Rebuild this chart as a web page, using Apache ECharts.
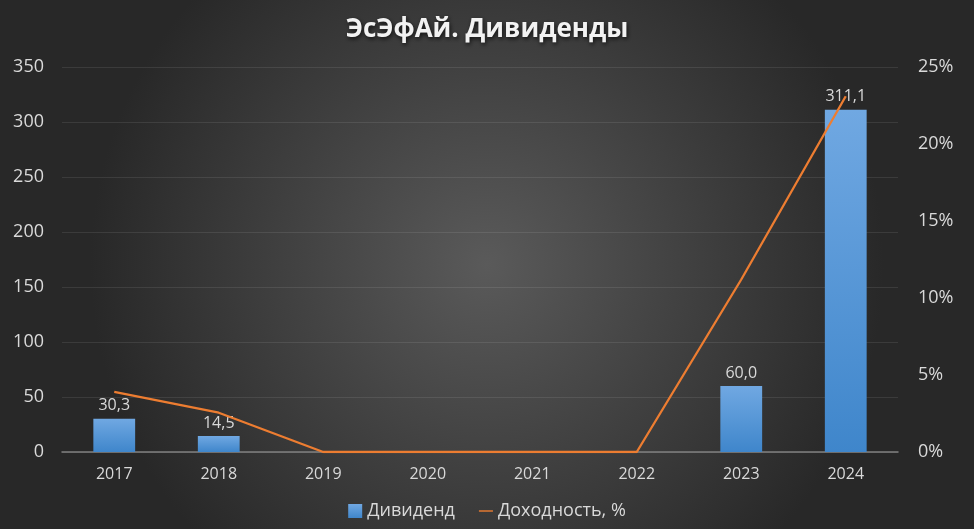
<!DOCTYPE html>
<html>
<head>
<meta charset="utf-8">
<script src="https://cdn.jsdelivr.net/npm/echarts@6/dist/echarts.min.js"></script>
<style>html,body{margin:0;padding:0;background:#333;}#c{width:974px;height:529px;}</style>
</head>
<body>
<div id="c"></div>
<script>
const categories = ['2017','2018','2019','2020','2021','2022','2023','2024'];
const dividends = [30.3, 14.5, 0, 0, 0, 0, 60.0, 311.1];
const yieldPct = [0.039, 0.0255, 0, 0, 0, 0, 0.112, 0.231];
const leftTicks = {min: 0, max: 350, interval: 50};
const rightTicks = {min: 0, max: 0.25, interval: 0.05};

const chart = echarts.init(document.getElementById('c'));
const txt = '#d9d9d9';
const font = '"Open Sans", "Noto Sans", sans-serif';
chart.setOption({
  backgroundColor: {
    type: 'radial', x: 0.5, y: 0.5, r: 0.75,
    colorStops: [{offset: 0, color: '#5a5a5a'}, {offset: 1, color: '#282828'}]
  },
  textStyle: {fontFamily: font},
  title: {
    text: 'ЭсЭфАй. Дивиденды', left: 'center', top: 12,
    textStyle: {color: '#f2f2f2', fontSize: 26, fontWeight: 'bold', fontFamily: font,
      textShadowColor: 'rgba(0,0,0,0.7)', textShadowBlur: 4, textShadowOffsetX: 1, textShadowOffsetY: 2}
  },
  grid: {left: 62, right: 76, top: 67, bottom: 77},
  legend: {
    bottom: 4, left: 'center', itemGap: 24, itemWidth: 14, itemHeight: 14,
    textStyle: {color: txt, fontSize: 18, fontFamily: font},
    data: [
      {name: 'Дивиденд', icon: 'rect'},
      {name: 'Доходность, %', icon: 'path://M0,6 L20,6 L20,8 L0,8 Z'}
    ]
  },
  xAxis: {
    type: 'category', data: categories,
    axisLine: {lineStyle: {color: '#808080', width: 1.5}},
    axisTick: {show: false},
    axisLabel: {color: txt, fontSize: 16, margin: 14}
  },
  yAxis: [
    {type: 'value', min: leftTicks.min, max: leftTicks.max, interval: leftTicks.interval,
     axisLabel: {color: txt, fontSize: 18, margin: 18},
     axisLine: {show: false}, axisTick: {show: false},
     splitLine: {lineStyle: {color: 'rgba(255,255,255,0.09)'}}},
    {type: 'value', min: rightTicks.min, max: rightTicks.max, interval: rightTicks.interval,
     position: 'right',
     axisLabel: {color: txt, fontSize: 18, margin: 20,
       formatter: v => Math.round(v * 100) + '%'},
     axisLine: {show: false}, axisTick: {show: false}, splitLine: {show: false}}
  ],
  series: [
    {name: 'Дивиденд', type: 'bar', data: dividends, barWidth: '40%', yAxisIndex: 0,
     itemStyle: {
       color: {type: 'linear', x: 0, y: 0, x2: 0, y2: 1,
         colorStops: [{offset: 0, color: '#70a8e2'}, {offset: 1, color: '#3f86cb'}]}
     },
     label: {show: true, position: 'top', color: txt, fontSize: 16, distance: 5,
       formatter: p => p.value > 0 ? p.value.toFixed(1).replace('.', ',') : ''}
    },
    {name: 'Доходность, %', type: 'line', data: yieldPct, yAxisIndex: 1,
     symbol: 'none', color: '#ed7d31',
     lineStyle: {color: '#ed7d31', width: 2.3}, z: 5}
  ]
});
</script>
</body>
</html>
